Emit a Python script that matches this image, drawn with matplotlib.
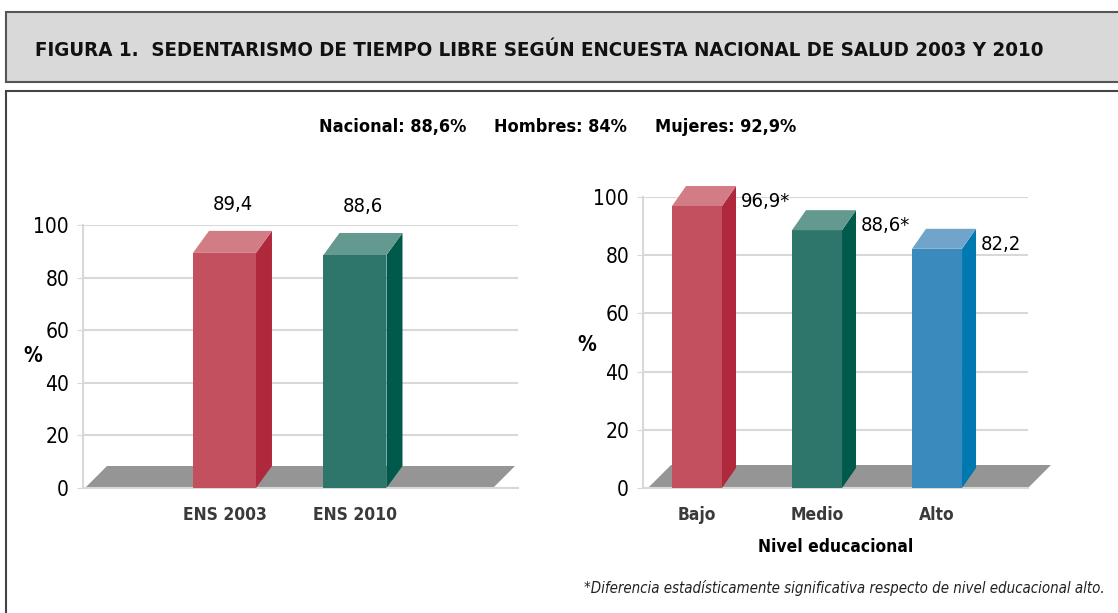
import numpy as np
import matplotlib
matplotlib.use("Agg")
from matplotlib import pyplot as plt
from matplotlib.patches import Polygon, Rectangle

plt.rcParams['font.family'] = ['DejaVu Sans']
plt.rcParams['font.stretch'] = 'condensed'

# data
title = "FIGURA 1.  SEDENTARISMO DE TIEMPO LIBRE SEGÚN ENCUESTA NACIONAL DE SALUD 2003 Y 2010"
header = ["Nacional: 88,6%", "Hombres: 84%", "Mujeres: 92,9%"]
ens_cats = ["ENS 2003", "ENS 2010"]
ens_vals = [89.4, 88.6]
ens_labels = ["89,4", "88,6"]
edu_cats = ["Bajo", "Medio", "Alto"]
edu_vals = [96.9, 88.6, 82.2]
edu_labels = ["96,9*", "88,6*", "82,2"]
yticks = [0, 20, 40, 60, 80, 100]
note = "*Diferencia estadísticamente significativa respecto de nivel educacional alto."

# colours (front, side, top)
red = ("#c2505f", "#b0283c", "#d27d86")
green = ("#2e766b", "#005a4b", "#64998f")
blue = ("#3a8abd", "#0079b0", "#70a4ca")
floor_col = "#959595"
grid_col = "#d8d8d8"

W, H = 1118, 613
fig = plt.figure(figsize=(W / 100, H / 100), dpi=100)

def px(x, y, w, h):
    # pixel box (top-left origin) -> figure fraction
    return [x / W, 1 - (y + h) / H, w / W, h / H]

# title box
fig.patches.append(Rectangle((6 / W, 1 - 82 / H), 1.2, 70 / H, transform=fig.transFigure,
                             facecolor="#d9d9d9", edgecolor="#555555", lw=1.5, zorder=-2))
fig.text(35 / W, 1 - 50 / H, title, fontsize=14.7, fontweight="bold", va="center", color="#111111")
# content box
fig.patches.append(Rectangle((6 / W, -0.1), 1.2, 1.1 - 91 / H, transform=fig.transFigure,
                             facecolor="white", edgecolor="#444444", lw=1.5, zorder=-2))

hx = [393, 560, 726]
for s, x in zip(header, hx):
    fig.text(x / W, 1 - 127 / H, s, fontsize=13, fontweight="bold", ha="center", va="center")


def draw3d(ax, vals, colors, width, dxp, dyp, floor_px):
    fig.canvas.draw()
    p0 = ax.transData.transform((0, 0))
    p1 = ax.transData.transform((1, 1))
    ux = p1[0] - p0[0]
    uy = p1[1] - p0[1]
    dx = dxp / ux
    dy = dyp / uy
    # floor
    x0, x1 = ax.get_xlim()
    fl, fr, fd = floor_px
    fx0 = x0 + fl / ux
    fx1 = x1 - fr / ux
    fdx = fd / ux
    fdy = fd / uy
    ax.add_patch(Polygon([(fx0, 0), (fx1, 0), (fx1 + fdx, fdy), (fx0 + fdx, fdy)],
                         closed=True, facecolor=floor_col, edgecolor="none", zorder=1, clip_on=False))
    xs = np.arange(len(vals))
    ax.bar(xs, vals, width=width, color=[c[0] for c in colors], zorder=3)
    for x, v, c in zip(xs, vals, colors):
        l, r = x - width / 2, x + width / 2
        ax.add_patch(Polygon([(r, 0), (r + dx, dy), (r + dx, v + dy), (r, v)], closed=True,
                             facecolor=c[1], edgecolor="none", zorder=3, clip_on=False))
        ax.add_patch(Polygon([(l, v), (l + dx, v + dy), (r + dx, v + dy), (r, v)], closed=True,
                             facecolor=c[2], edgecolor="none", zorder=3, clip_on=False))
    return dx, dy


def style(ax, cats):
    ax.set_ylim(0, 100)
    ax.set_yticks(yticks)
    ax.set_yticklabels([str(t) for t in yticks], fontsize=15)
    ax.set_xticks(range(len(cats)))
    ax.set_xticklabels(cats, fontsize=12.5, fontweight="bold", color="#3a3a3a")
    ax.tick_params(axis="x", length=0, pad=13)
    ax.tick_params(axis="y", length=4, color=grid_col, pad=6)
    ax.grid(axis="y", color=grid_col, lw=1.5, zorder=0)
    ax.set_axisbelow(True)
    ax.patch.set_alpha(0)
    for s in ["top", "right"]:
        ax.spines[s].set_visible(False)
    ax.spines["left"].set_color(grid_col)
    ax.spines["bottom"].set_color(grid_col)
    ax.spines["left"].set_linewidth(1.5)
    ax.spines["bottom"].set_linewidth(1.5)


# left chart
ax1 = fig.add_axes(px(83, 225, 435, 263))
ax1.set_xlim(-1.084, 2.249)
style(ax1, ens_cats)
w1 = 63 / 130.5
dx1, dy1 = draw3d(ax1, ens_vals, [red, green], w1, 16, 22, (2, 25, 22))
for i, (v, s) in enumerate(zip(ens_vals, ens_labels)):
    ax1.text(i + dx1 / 2, v + dy1 + 10, s, fontsize=14.5, ha="center", va="center")
ax1.set_ylabel("%", fontsize=15, fontweight="bold", rotation=0, va="center")
ax1.yaxis.set_label_coords(-0.115, 0.5)

# right chart
ax2 = fig.add_axes(px(643, 197, 385, 291))
ax2.set_xlim(-0.45, 2.758)
style(ax2, edu_cats)
w2 = 50 / 120
dx2, dy2 = draw3d(ax2, edu_vals, [red, green, blue], w2, 14, 20, (5, 0, 23))
for i, (v, s) in enumerate(zip(edu_vals, edu_labels)):
    ax2.text(i + w2 / 2 + dx2 + 0.04, v + 1.5, s, fontsize=14.5, ha="left", va="center")
ax2.set_ylabel("%", fontsize=15, fontweight="bold", rotation=0, va="center")
ax2.yaxis.set_label_coords(-0.145, 0.49)
ax2.set_xlabel("Nivel educacional", fontsize=12.5, fontweight="bold", labelpad=10)

fig.text(1105 / W, 1 - 588 / H, note, fontsize=10.8, style="italic", ha="right", va="center",
         color="#222222")

fig.savefig("out.png", dpi=100)
